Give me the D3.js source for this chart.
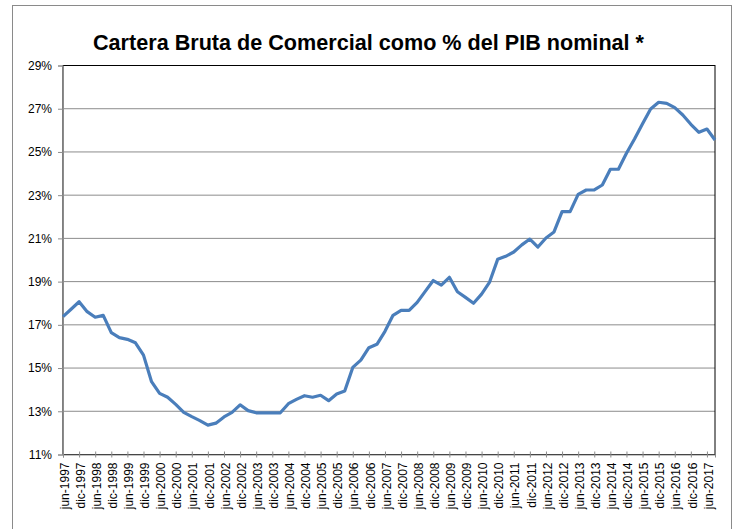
<!DOCTYPE html>
<html>
<head>
<meta charset="utf-8">
<script src="https://cdn.jsdelivr.net/npm/d3@7"></script>
<style>
  html, body { margin: 0; padding: 0; background: #ffffff; }
  svg { display: block; }
  text { font-family: "Liberation Sans", Arial, sans-serif; fill: #000; }
</style>
</head>
<body>
<svg id="chart" width="738" height="529"></svg>
<script>
// Quarterly periods (Spanish month abbreviations)
const periods = [
  "jun-1997","sep-1997","dic-1997",
  "mar-1998","jun-1998","sep-1998","dic-1998",
  "mar-1999","jun-1999","sep-1999","dic-1999",
  "mar-2000","jun-2000","sep-2000","dic-2000",
  "mar-2001","jun-2001","sep-2001","dic-2001",
  "mar-2002","jun-2002","sep-2002","dic-2002",
  "mar-2003","jun-2003","sep-2003","dic-2003",
  "mar-2004","jun-2004","sep-2004","dic-2004",
  "mar-2005","jun-2005","sep-2005","dic-2005",
  "mar-2006","jun-2006","sep-2006","dic-2006",
  "mar-2007","jun-2007","sep-2007","dic-2007",
  "mar-2008","jun-2008","sep-2008","dic-2008",
  "mar-2009","jun-2009","sep-2009","dic-2009",
  "mar-2010","jun-2010","sep-2010","dic-2010",
  "mar-2011","jun-2011","sep-2011","dic-2011",
  "mar-2012","jun-2012","sep-2012","dic-2012",
  "mar-2013","jun-2013","sep-2013","dic-2013",
  "mar-2014","jun-2014","sep-2014","dic-2014",
  "mar-2015","jun-2015","sep-2015","dic-2015",
  "mar-2016","jun-2016","sep-2016","dic-2016",
  "mar-2017","jun-2017","sep-2017"
];

// Commercial gross portfolio as % of nominal GDP
const carteraPct = [
  17.38, 17.72, 18.07,
  17.61, 17.35, 17.44, 16.64,
  16.41, 16.33, 16.17, 15.60,
  14.37, 13.83, 13.65, 13.32,
  12.95, 12.75, 12.57, 12.36,
  12.45, 12.74, 12.95, 13.30,
  13.03, 12.93, 12.93, 12.93,
  12.93, 13.35, 13.55, 13.72,
  13.65, 13.74, 13.49, 13.80,
  13.94, 15.03, 15.37, 15.94,
  16.10, 16.70, 17.44, 17.67,
  17.67, 18.04, 18.55, 19.05,
  18.84, 19.20, 18.53, 18.27,
  18.00, 18.42, 18.98, 20.03,
  20.17, 20.37, 20.70, 20.97,
  20.60, 21.02, 21.30, 22.24,
  22.24, 23.04, 23.24, 23.24,
  23.47, 24.20, 24.20, 24.94,
  25.60, 26.30, 26.99, 27.30,
  27.25, 27.05, 26.71, 26.28,
  25.91, 26.06, 25.55
];

// Axis labels
const xTickLabels = [
  "jun-1997","dic-1997","jun-1998","dic-1998","jun-1999","dic-1999",
  "jun-2000","dic-2000","jun-2001","dic-2001","jun-2002","dic-2002",
  "jun-2003","dic-2003","jun-2004","dic-2004","jun-2005","dic-2005",
  "jun-2006","dic-2006","jun-2007","dic-2007","jun-2008","dic-2008",
  "jun-2009","dic-2009","jun-2010","dic-2010","jun-2011","dic-2011",
  "jun-2012","dic-2012","jun-2013","dic-2013","jun-2014","dic-2014",
  "jun-2015","dic-2015","jun-2016","dic-2016","jun-2017"
];
const yTicks = [11, 13, 15, 17, 19, 21, 23, 25, 27, 29];

const titleText = "Cartera Bruta de Comercial como % del PIB nominal *";

const svg = d3.select("#chart");

// outer chart frame
svg.append("rect")
  .attr("x", 12.5).attr("y", 5.5)
  .attr("width", 719).attr("height", 540)
  .attr("fill", "#fff")
  .attr("stroke", "#8a8a8a").attr("stroke-width", 1);

const plot = { left: 63, right: 715, top: 65.5, bottom: 454.5 };

const x = d3.scalePoint().domain(periods).range([plot.left, plot.right]);
const y = d3.scaleLinear().domain([11, 29]).range([plot.bottom, plot.top]);

// title
svg.append("text")
  .attr("x", 93).attr("y", 50)
  .attr("textLength", 551)
  .attr("lengthAdjust", "spacingAndGlyphs")
  .style("font-size", "22px")
  .style("font-weight", "bold")
  .text(titleText);

// horizontal gridlines
svg.append("g")
  .selectAll("line")
  .data(yTicks.filter(d => d > 11 && d < 29))
  .join("line")
  .attr("x1", plot.left).attr("x2", plot.right)
  .attr("y1", d => y(d)).attr("y2", d => y(d))
  .attr("stroke", "#8c8c8c").attr("stroke-width", 1);

// plot-area border
svg.append("rect")
  .attr("x", plot.left).attr("y", plot.top)
  .attr("width", plot.right - plot.left).attr("height", plot.bottom - plot.top)
  .attr("fill", "none")
  .attr("stroke", "#000").attr("stroke-width", 1);

// y axis
const yAxis = d3.axisLeft(y)
  .tickValues(yTicks)
  .tickSize(5)
  .tickPadding(6)
  .tickFormat(d => d + "%");
const gy = svg.append("g")
  .attr("transform", `translate(${plot.left},0)`)
  .call(yAxis);
gy.select(".domain").attr("stroke", "#8c8c8c");
gy.selectAll(".tick line").attr("stroke", "#8c8c8c");
gy.selectAll(".tick text")
  .style("font-size", "12px")
  .style("font-family", "'Liberation Sans', Arial, sans-serif")
  .attr("fill", "#000");

// x axis (tick and label every half year)
const xAxis = d3.axisBottom(x)
  .tickValues(xTickLabels)
  .tickSizeOuter(0)
  .tickSize(3)
  .tickPadding(0);
const gx = svg.append("g")
  .attr("transform", `translate(0,${plot.bottom})`)
  .call(xAxis);
gx.select(".domain").attr("stroke", "#8c8c8c");
gx.selectAll(".tick line")
  .attr("y1", -3).attr("y2", 3)
  .attr("stroke", "#8c8c8c");
gx.selectAll(".tick text")
  .style("font-size", "12px")
  .style("font-family", "'Liberation Sans', Arial, sans-serif")
  .attr("fill", "#000")
  .attr("text-anchor", "end")
  .attr("dy", "0.35em")
  .attr("transform", "translate(1,8) rotate(-90)")
  .attr("x", 0).attr("y", 0);

// series line
const line = d3.line()
  .x((d, i) => x(periods[i]))
  .y(d => y(d));

svg.append("path")
  .datum(carteraPct)
  .attr("d", line)
  .attr("fill", "none")
  .attr("stroke", "#4a7ebb")
  .attr("stroke-width", 3.2)
  .attr("stroke-linejoin", "round")
  .attr("stroke-linecap", "butt");
</script>
</body>
</html>
